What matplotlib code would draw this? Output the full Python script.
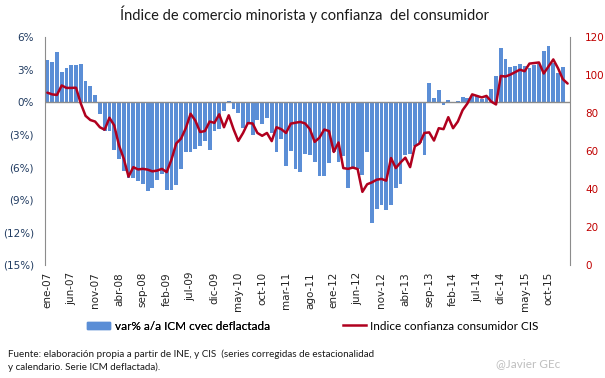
import numpy as np
import matplotlib
matplotlib.use('Agg')
import matplotlib.pyplot as plt
from matplotlib.patches import Patch
from matplotlib.lines import Line2D

# monthly, ene-07 .. feb-16
meses = ['ene', 'feb', 'mar', 'abr', 'may', 'jun', 'jul', 'ago', 'sep', 'oct', 'nov', 'dic']
fechas = ['%s-%02d' % (meses[i % 12], 7 + i // 12) for i in range(110)]

# var% a/a ICM cvec deflactada (last month not yet published)
icm = [3.84, 3.66, 4.66, 2.74, 3.1, 3.45, 3.45, 3.48, 1.92, 1.46, 0.64, -1.07,
       -2.7, -2.7, -4.4, -5.2, -6.3, -7.0, -7.0, -7.3, -7.5, -8.2, -7.9, -7.2,
       -6.6, -8.1, -8.05, -7.6, -6.2, -4.6, -4.6, -4.3, -4.0, -3.6, -4.4, -2.65,
       -2.5, -0.8, 0.1, -0.6, -1.0, -2.4, -2.0, -3.0, -1.6, -2.0, -1.5, -2.8,
       -4.6, -3.4, -5.9, -4.5, -6.2, -6.4, -4.8, -4.9, -5.5, -6.8, -6.8, -5.6,
       -4.6, -5.5, -5.0, -7.9, -6.2, -6.2, -6.7, -4.6, -11.1, -9.8, -9.5, -9.9,
       -9.5, -7.9, -7.5, -4.9, -4.8, -4.0, -3.8, -4.9, 1.8, 0.4, 1.1, -0.3,
       0.2, -0.1, 0.1, 0.45, 0.35, 0.6, 0.6, 0.3, 0.5, 1.2, 2.4, 5.0,
       4.0, 3.2, 3.3, 3.5, 3.3, 3.1, 3.4, 3.5, 4.7, 5.2, 3.6, 2.7,
       3.2, np.nan]

# Indice confianza consumidor CIS
cis = [90.7, 89.8, 89.5, 94.5, 93.2, 93.2, 93.3, 85.0, 78.5, 76.3, 75.5, 72.5,
       71.2, 77.5, 73.5, 63.0, 56.0, 46.5, 51.5, 50.3, 50.6, 50.2, 49.3, 49.7,
       50.6, 48.9, 55.5, 64.0, 66.5, 72.0, 79.6, 76.0, 70.0, 70.5, 75.5, 74.8,
       79.3, 72.5, 78.8, 71.5, 65.3, 69.5, 74.7, 74.5, 69.5, 68.0, 69.5, 65.2,
       72.5, 71.5, 69.5, 74.4, 74.9, 75.3, 74.5, 71.5, 64.8, 67.0, 71.3, 70.5,
       59.5, 64.5, 51.0, 50.6, 51.3, 50.5, 38.5, 42.5, 43.5, 44.9, 45.3, 44.4,
       56.3, 51.0, 54.0, 56.5, 51.5, 62.5, 64.0, 69.5, 69.8, 65.5, 72.0, 71.5,
       77.8, 72.0, 75.5, 81.5, 85.0, 89.8, 89.0, 88.2, 89.0, 86.0, 84.5, 99.5,
       99.2, 100.2, 101.5, 102.8, 102.0, 106.0, 106.3, 106.6, 100.8, 104.5, 108.2, 103.5,
       97.8, 95.5]

pct_ticks = [6, 3, 0, -3, -6, -9, -12, -15]
pct_labels = ['6%', '3%', '0%', '(3%)', '(6%)', '(9%)', '(12%)', '(15%)']
cis_ticks = [0, 20, 40, 60, 80, 100, 120]

azul = '#5B8ED6'
rojo = '#B0001E'
txt_font = ['Lato', 'DejaVu Sans']

x = np.arange(len(fechas))

fig = plt.figure(figsize=(6.05, 3.78), dpi=100)
ax = fig.add_axes([45/605, 1-265/378, 525/605, 228/378])
ax.bar(x, icm, width=0.8, color=azul, zorder=2)
ax.axhline(0, color='#8C8C8C', lw=1, zorder=3)
ax.set_xlim(-0.5, len(fechas)-0.5)
ax.set_ylim(-15, 6)
ax.set_yticks(pct_ticks)
ax.set_yticklabels(pct_labels, color='#1F3A60', fontsize=7.5)
ax.set_xticks(x[::5])
ax.set_xticklabels(fechas[::5], rotation=90, fontsize=7.5, color='#222222')
ax.tick_params(axis='both', length=0)
ax.tick_params(axis='x', pad=5)
ax.tick_params(axis='y', pad=8)
for s in ['top', 'right', 'bottom']:
    ax.spines[s].set_visible(False)
ax.spines['left'].set_color('#8C8C8C')

ax2 = ax.twinx()
ax2.plot(x, cis, color=rojo, lw=1.8, solid_joinstyle='round', solid_capstyle='round', zorder=4)
ax2.set_ylim(0, 120)
ax2.set_yticks(cis_ticks)
ax2.set_yticklabels([str(v) for v in cis_ticks], color='#C00000', fontsize=7.5)
ax2.tick_params(axis='y', length=0, pad=11)
for s in ['top', 'left', 'bottom']:
    ax2.spines[s].set_visible(False)
ax2.spines['right'].set_color('#8C8C8C')

fig.text(305/605, 1-14/378, 'Índice de comercio minorista y confianza  del consumidor',
         ha='center', va='center', fontsize=10.5, family=txt_font, color='#1A1A1A')

leg1 = fig.legend(handles=[Patch(color=azul)], labels=['var% a/a ICM cvec deflactada'],
                  loc='center left', bbox_to_anchor=(76/605, 1-326/378), frameon=False,
                  handlelength=2.0, handleheight=0.55, handletextpad=0.4,
                  prop={'family': txt_font, 'size': 8.5})
fig.add_artist(leg1)
fig.legend(handles=[Line2D([], [], color=rojo, lw=1.8)], labels=['Indice confianza consumidor CIS'],
           loc='center left', bbox_to_anchor=(332/605, 1-326/378), frameon=False,
           handlelength=2.0, handletextpad=0.3, prop={'family': txt_font, 'size': 8.5})

fig.text(8/605, 1-354/378, 'Fuente: elaboración propia a partir de INE, y CIS  (series corregidas de estacionalidad',
         ha='left', va='center', fontsize=7.1, family=txt_font, color='#1A1A1A')
fig.text(8/605, 1-367/378, 'y calendario. Serie ICM deflactada).',
         ha='left', va='center', fontsize=7.1, family=txt_font, color='#1A1A1A')
fig.text(528/605, 1-364/378, '@Javier GEc', ha='center', va='center', fontsize=8.5,
         family=txt_font, color='#BFBFBF')

fig.savefig('out.png', dpi=100)
